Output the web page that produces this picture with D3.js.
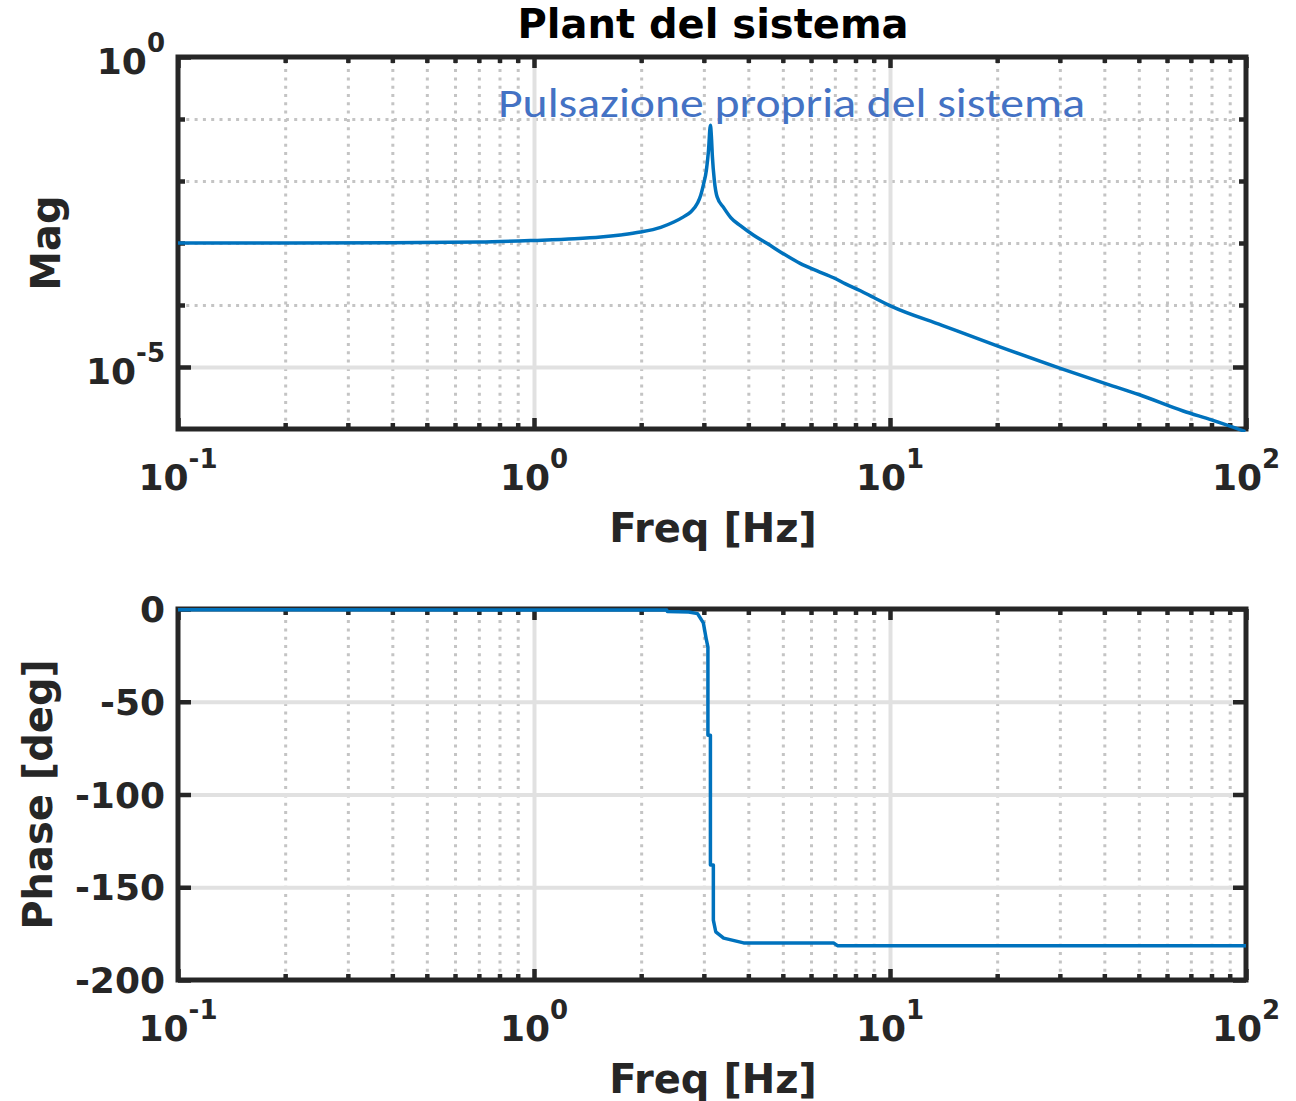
<!DOCTYPE html>
<html>
<head>
<meta charset="utf-8">
<script src="https://cdn.jsdelivr.net/npm/d3@7/dist/d3.min.js"></script>
<style>
  html, body { margin: 0; padding: 0; background: #fff; }
  svg { display: block; }
</style>
</head>
<body>
<svg id="chart" width="1296" height="1101"></svg>
<script>
// ---------------- DATA ----------------
const titleText = "Plant del sistema";
const annotationText = "Pulsazione propria del sistema";
const xLabelText = "Freq [Hz]";
const magLabelText = "Mag";
const phaseLabelText = "Phase [deg]";

// frequency axis
const freqDomain = [0.1, 100];
const freqMajorTicks = [0.1, 1, 10, 100];
const freqMajorExp = ["-1", "0", "1", "2"];
const freqMinorTicks = [0.2,0.3,0.4,0.5,0.6,0.7,0.8,0.9, 2,3,4,5,6,7,8,9, 20,30,40,50,60,70,80,90];

// magnitude axis
const magDomain = [1e-6, 1];
const magLabelTicks = [1, 1e-5];
const magLabelExp = ["0", "-5"];

// phase axis
const phaseDomain = [-200, 0];
const phaseTicks = [0, -50, -100, -150, -200];
const phaseTickLabels = ["0", "-50", "-100", "-150", "-200"];

// magnitude series (Hz, |H|)
const magFreq = [0.1, 0.2, 0.4, 0.7, 1.0, 1.3, 1.54, 1.75, 1.99, 2.27, 2.47, 2.63, 2.76, 2.88, 2.94, 2.99, 3.05, 3.09, 3.13, 3.15, 3.17, 3.21, 3.27, 3.41, 3.57, 3.80, 4.15, 4.52, 5.0, 5.59, 6.24, 6.94, 7.5, 8.26, 9.0, 10.1, 14.0, 20.0, 30.1, 40.7, 50.0, 66.6, 80.0, 99.6];
const magVal  = [1.00e-3, 1.00e-3, 1.01e-3, 1.035e-3, 1.10e-3, 1.17e-3, 1.25e-3, 1.35e-3, 1.50e-3, 1.79e-3, 2.18e-3, 2.64e-3, 3.20e-3, 4.40e-3, 5.90e-3, 8.6e-3, 1.50e-2, 3.0e-2, 7.94e-2, 5.2e-2, 2.5e-2, 1.03e-2, 5.5e-3, 3.72e-3, 2.57e-3, 1.90e-3, 1.32e-3, 9.8e-4, 6.8e-4, 4.7e-4, 3.55e-4, 2.75e-4, 2.19e-4, 1.70e-4, 1.32e-4, 9.5e-5, 4.7e-5, 2.19e-5, 9.5e-6, 5.3e-6, 3.6e-6, 1.95e-6, 1.40e-6, 9.1e-7];

// phase series (Hz, deg)
const phaseFreq = [0.1, 1.0, 2.36, 2.37, 2.72, 2.88, 2.99, 3.05, 3.08, 3.08, 3.13, 3.13, 3.19, 3.19, 3.24, 3.41, 3.88, 6.94, 7.12, 100];
const phaseVal  = [-0.4, -0.5, -0.6, -1.4, -1.6, -2.5, -7.5, -16.7, -20.5, -68, -68, -138, -138, -167.7, -174, -177.4, -180, -180, -181.5, -181.5];

// ---------------- LAYOUT ----------------
const svg = d3.select("#chart");
const L = 178, R = 1246;
const magTop = 57, magBot = 429;
const phTop = 609, phBot = 980;

const AX = "#262626";
const LINE = "#0072BD";
const MAJOR_GRID = "#e1e1e1";
const MINOR_GRID = "#c4c4c4";
const FONT = "'DejaVu Sans', sans-serif";
const TICK_FS = 36, SUP_FS = 26, LABEL_FS = 40;

const x = d3.scaleLog().domain(freqDomain).range([L, R]);
const yMag = d3.scaleLog().domain(magDomain).range([magBot, magTop]);
const yPh = d3.scaleLinear().domain(phaseDomain).range([phBot, phTop]);

function panel(y, top, bot, yMajorGrid, yMinorGrid, yMajorTicks, yMinorTicks, key) {
  const g = svg.append("g");
  const h = bot - top, w = R - L;

  // minor vertical grid (dotted)
  g.append("g").attr("transform", `translate(0,${bot})`)
    .call(d3.axisBottom(x).tickValues(freqMinorTicks).tickSize(-h).tickFormat(""))
    .call(s => s.select(".domain").remove())
    .selectAll("line").attr("stroke", MINOR_GRID).attr("stroke-width", 3).attr("stroke-dasharray", "3,5.3");
  // minor horizontal grid (dotted)
  if (yMinorGrid.length) {
    g.append("g").attr("transform", `translate(${L},0)`)
      .call(d3.axisLeft(y).tickValues(yMinorGrid).tickSize(-w).tickFormat(""))
      .call(s => s.select(".domain").remove())
      .selectAll("line").attr("stroke", MINOR_GRID).attr("stroke-width", 3).attr("stroke-dasharray", "3,5.3");
  }
  // major vertical grid (solid light)
  g.append("g").attr("transform", `translate(0,${bot})`)
    .call(d3.axisBottom(x).tickValues([1, 10]).tickSize(-h).tickFormat(""))
    .call(s => s.select(".domain").remove())
    .selectAll("line").attr("stroke", MAJOR_GRID).attr("stroke-width", 4);
  // major horizontal grid
  g.append("g").attr("transform", `translate(${L},0)`)
    .call(d3.axisLeft(y).tickValues(yMajorGrid).tickSize(-w).tickFormat(""))
    .call(s => s.select(".domain").remove())
    .selectAll("line").attr("stroke", MAJOR_GRID).attr("stroke-width", 4);

  // ticks (inward, on all four sides)
  const tickStyle = s => { s.select(".domain").remove(); s.selectAll("line").attr("stroke", AX).attr("stroke-width", 4.5); };
  g.append("g").attr("transform", `translate(0,${bot})`).call(d3.axisBottom(x).tickValues(freqMajorTicks).tickSize(-11).tickFormat("")).call(tickStyle);
  g.append("g").attr("transform", `translate(0,${bot})`).call(d3.axisBottom(x).tickValues(freqMinorTicks).tickSize(-6).tickFormat("")).call(tickStyle);
  g.append("g").attr("transform", `translate(0,${top})`).call(d3.axisTop(x).tickValues(freqMajorTicks).tickSize(-11).tickFormat("")).call(tickStyle);
  g.append("g").attr("transform", `translate(0,${top})`).call(d3.axisTop(x).tickValues(freqMinorTicks).tickSize(-6).tickFormat("")).call(tickStyle);
  g.append("g").attr("transform", `translate(${L},0)`).call(d3.axisLeft(y).tickValues(yMajorTicks).tickSize(-13).tickFormat("")).call(tickStyle);
  g.append("g").attr("transform", `translate(${R},0)`).call(d3.axisRight(y).tickValues(yMajorTicks).tickSize(-13).tickFormat("")).call(tickStyle);
  if (yMinorTicks.length) {
    g.append("g").attr("transform", `translate(${L},0)`).call(d3.axisLeft(y).tickValues(yMinorTicks).tickSize(-7).tickFormat("")).call(tickStyle);
    g.append("g").attr("transform", `translate(${R},0)`).call(d3.axisRight(y).tickValues(yMinorTicks).tickSize(-7).tickFormat("")).call(tickStyle);
  }

  // frame
  g.append("rect").attr("x", L).attr("y", top).attr("width", w).attr("height", h)
    .attr("fill", "none").attr("stroke", AX).attr("stroke-width", 5);

  // clip for data
  svg.append("clipPath").attr("id", "clip-" + key)
    .append("rect").attr("x", L - 3).attr("y", top - 3).attr("width", w + 6).attr("height", h + 6);

  // x tick labels 10^n
  const xl = g.append("g");
  freqMajorTicks.forEach((f, i) => {
    const t = xl.append("text").attr("x", x(f)).attr("y", bot + 61)
      .attr("text-anchor", "middle").attr("font-family", FONT).attr("font-weight", "bold")
      .attr("font-size", TICK_FS).attr("fill", AX);
    t.append("tspan").text("10");
    t.append("tspan").attr("font-size", SUP_FS).attr("dy", -22).text(freqMajorExp[i]);
  });
  // x label
  g.append("text").attr("x", 713).attr("y", bot + 113).attr("text-anchor", "middle")
    .attr("font-family", FONT).attr("font-weight", "bold").attr("font-size", LABEL_FS).attr("fill", AX)
    .text(xLabelText);
  return g;
}

// ---------------- MAGNITUDE PANEL ----------------
const magMinorGrid = [1e-1, 1e-2, 1e-3, 1e-4, 1e-6];
const gMag = panel(yMag, magTop, magBot, [1e-5], magMinorGrid, [1, 1e-5], [1e-1, 1e-2, 1e-3, 1e-4], "mag");

magLabelTicks.forEach((v, i) => {
  const t = gMag.append("text").attr("x", 165).attr("y", yMag(v) + 17)
    .attr("text-anchor", "end").attr("font-family", FONT).attr("font-weight", "bold")
    .attr("font-size", TICK_FS).attr("fill", AX);
  t.append("tspan").text("10");
  t.append("tspan").attr("font-size", SUP_FS).attr("dy", -22).text(magLabelExp[i]);
});

gMag.append("text").attr("transform", `translate(60,${(magTop + magBot) / 2}) rotate(-90)`)
  .attr("text-anchor", "middle").attr("font-family", FONT).attr("font-weight", "bold")
  .attr("font-size", LABEL_FS).attr("fill", AX).text(magLabelText);

const magLine = d3.line().x(d => x(d[0])).y(d => yMag(d[1])).curve(d3.curveMonotoneX);
svg.append("path").datum(d3.zip(magFreq, magVal))
  .attr("clip-path", "url(#clip-mag)")
  .attr("d", magLine).attr("fill", "none").attr("stroke", LINE).attr("stroke-width", 3.5)
  .attr("stroke-linejoin", "round");

// ---------------- PHASE PANEL ----------------
const gPh = panel(yPh, phTop, phBot, [-50, -100, -150], [], phaseTicks, [], "ph");

phaseTicks.forEach((v, i) => {
  gPh.append("text").attr("x", 165).attr("y", yPh(v) + 13)
    .attr("text-anchor", "end").attr("font-family", FONT).attr("font-weight", "bold")
    .attr("font-size", TICK_FS).attr("fill", AX).text(phaseTickLabels[i]);
});

gPh.append("text").attr("transform", `translate(52,${(phTop + phBot) / 2}) rotate(-90)`)
  .attr("text-anchor", "middle").attr("font-family", FONT).attr("font-weight", "bold")
  .attr("font-size", LABEL_FS).attr("fill", AX).text(phaseLabelText);

const phLine = d3.line().x(d => x(d[0])).y(d => yPh(d[1]));
svg.append("path").datum(d3.zip(phaseFreq, phaseVal))
  .attr("clip-path", "url(#clip-ph)")
  .attr("d", phLine).attr("fill", "none").attr("stroke", LINE).attr("stroke-width", 3.5)
  .attr("stroke-linejoin", "round");

// ---------------- TITLE & ANNOTATION ----------------
svg.append("text").attr("x", 713).attr("y", 38).attr("text-anchor", "middle")
  .attr("font-family", FONT).attr("font-weight", "bold").attr("font-size", LABEL_FS).attr("fill", "#000")
  .text(titleText);

svg.append("text").attr("x", 498).attr("y", 117)
  .attr("font-family", "Carlito, Calibri, Lato, 'Open Sans', sans-serif").attr("font-size", 40)
  .attr("fill", "#4472C4").attr("textLength", 587).attr("lengthAdjust", "spacingAndGlyphs")
  .text(annotationText);
</script>
</body>
</html>
